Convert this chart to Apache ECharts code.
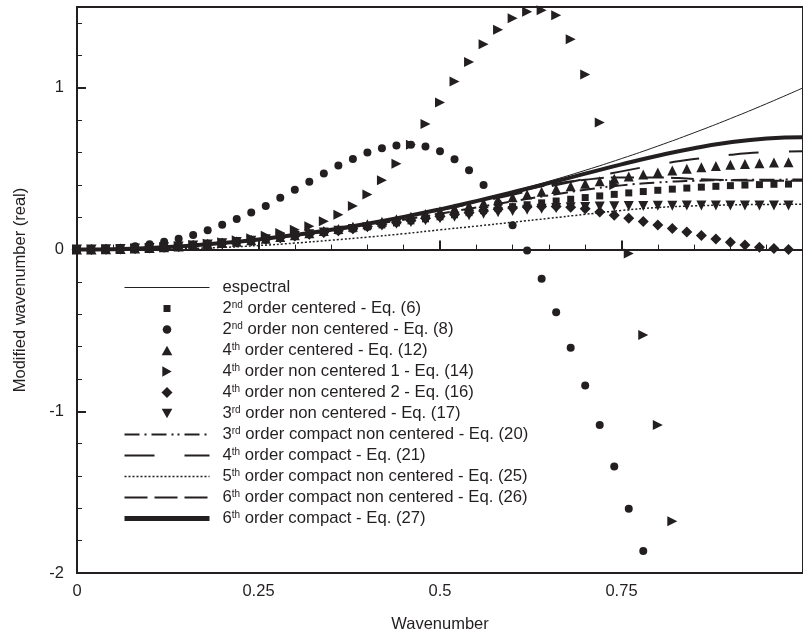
<!DOCTYPE html>
<html>
<head>
<meta charset="utf-8">
<script src="https://cdn.jsdelivr.net/npm/echarts@6/dist/echarts.min.js"></script>
<style>
html, body { margin: 0; padding: 0; background: #fff; }
#main { width: 803px; height: 640px; }
</style>
</head>
<body>
<div id="main"></div>
<script>
// wavenumbers of the marker series (step 0.02)
var wPts = [0,0.02,0.04,0.06,0.08,0.10,0.12,0.14,0.16,0.18,0.20,0.22,0.24,0.26,0.28,0.30,0.32,0.34,0.36,0.38,
            0.40,0.42,0.44,0.46,0.48,0.50,0.52,0.54,0.56,0.58,0.60,0.62,0.64,0.66,0.68,0.70,0.72,0.74,0.76,0.78,
            0.80,0.82,0.84,0.86,0.88,0.90,0.92,0.94,0.96,0.98];
// wavenumbers of the line series (step 0.05)
var wLine = [0,0.05,0.10,0.15,0.20,0.25,0.30,0.35,0.40,0.45,0.50,0.55,0.60,0.65,0.70,0.75,0.80,0.85,0.90,0.95,1.00];

// lines
var espectral = [0,0.0025,0.01,0.0225,0.04,0.0625,0.09,0.1225,0.16,0.2025,0.25,0.3025,0.36,0.4225,0.49,0.5625,0.64,0.7225,0.81,0.9025,1];
var cmp3nc = [0,0.0025,0.01,0.0224,0.0395,0.061,0.087,0.117,0.15,0.185,0.222,0.26,0.298,0.335,0.37,0.397,0.415,0.425,0.43,0.432,0.433];
var cmp4 = [0,0.0025,0.0100,0.0225,0.0400,0.0624,0.0897,0.1217,0.1582,0.1989,0.2432,0.2903,0.3393,0.3889,0.4375,0.4835,0.5248,0.5595,0.5859,0.6023,0.6079];
var cmp5nc = [0,0.001,0.003,0.007,0.013,0.025,0.04,0.058,0.077,0.098,0.122,0.145,0.169,0.193,0.218,0.242,0.26,0.27,0.276,0.279,0.28];
var cmp6nc = [0,0.0025,0.01,0.0225,0.04,0.0625,0.09,0.1224,0.1596,0.2012,0.247,0.298,0.352,0.40,0.432,0.446,0.446,0.437,0.429,0.426,0.425];
var cmp6 = [0,0.0025,0.0100,0.0225,0.0400,0.0625,0.0900,0.1224,0.1598,0.2019,0.2487,0.2996,0.3542,0.4112,0.4694,0.5266,0.5801,0.6268,0.6633,0.6867,0.6947];

// markers
var ord2c = [0,0.0004,0.0016,0.0036,0.0064,0.0099,0.0142,0.0193,0.0251,0.0315,0.0387,0.0465,0.0549,0.0639,0.0735,0.0835,0.0941,0.1050,0.1164,0.1280,
             0.1400,0.1522,0.1647,0.1772,0.1899,0.2026,0.2154,0.2280,0.2406,0.2530,0.2653,0.2772,0.2889,0.3003,0.3112,0.3217,0.3318,0.3414,0.3504,0.3588,
             0.3666,0.3737,0.3802,0.3860,0.3911,0.3954,0.3989,0.4017,0.4037,0.4049];
var ord2nc = [0,0.0005,0.003,0.01,0.02,0.033,0.048,0.067,0.09,0.119,0.153,0.189,0.229,0.27,0.32,0.37,0.42,0.47,0.52,0.56,
              0.60,0.627,0.644,0.648,0.637,0.608,0.558,0.49,0.40,0.285,0.15,-0.006,-0.18,-0.387,-0.607,-0.84,-1.085,-1.342,-1.603,-1.864];
var ord4c = [0,0.0004,0.0016,0.0036,0.0064,0.0100,0.0144,0.0196,0.0256,0.0324,0.0399,0.0483,0.0574,0.0673,0.0779,0.0893,0.1013,0.1141,0.1275,0.1415,
             0.1562,0.1713,0.1870,0.2031,0.2196,0.2364,0.2535,0.2708,0.2882,0.3057,0.3231,0.3405,0.3576,0.3744,0.3909,0.4069,0.4224,0.4372,0.4513,0.4647,
             0.4771,0.4886,0.4991,0.5085,0.5168,0.5239,0.5298,0.5344,0.5377,0.5397];
var ord4nc1 = [0,0.0004,0.0016,0.0037,0.0066,0.0104,0.015,0.021,0.028,0.036,0.046,0.057,0.07,0.085,0.102,0.123,0.144,0.175,0.216,0.27,
               0.34,0.428,0.531,0.648,0.776,0.909,1.04,1.16,1.27,1.36,1.43,1.47,1.48,1.449,1.301,1.082,0.786,0.40,-0.025,-0.529,
               -1.085,-1.68];
var ord4nc2 = [0,0.0004,0.0016,0.0036,0.0064,0.0099,0.0142,0.0193,0.0251,0.0315,0.0387,0.0465,0.0549,0.0639,0.0735,0.0835,0.0941,0.1050,0.1164,0.1290,
               0.143,0.156,0.169,0.181,0.193,0.205,0.217,0.228,0.239,0.249,0.257,0.263,0.267,0.267,0.262,0.253,0.233,0.213,0.193,0.173,
               0.152,0.13,0.108,0.087,0.066,0.046,0.029,0.015,0.006,0.001];
var ord3nc = [0,0.0004,0.0016,0.0036,0.0064,0.0099,0.0142,0.0193,0.0251,0.0315,0.0387,0.0465,0.0549,0.0639,0.0735,0.0835,0.0941,0.1050,0.1160,0.1270,
              0.138,0.149,0.16,0.171,0.182,0.193,0.203,0.213,0.222,0.231,0.239,0.246,0.252,0.257,0.261,0.264,0.266,0.268,0.269,0.27,
              0.271,0.271,0.272,0.272,0.272,0.272,0.272,0.272,0.272,0.272];

var names = [
    'espectral',
    '2nd order centered - Eq. (6)',
    '2nd order non centered - Eq. (8)',
    '4th order centered - Eq. (12)',
    '4th order non centered 1 - Eq. (14)',
    '4th order non centered 2 - Eq. (16)',
    '3rd order non centered - Eq. (17)',
    '3rd order compact non centered - Eq. (20)',
    '4th order compact - Eq. (21)',
    '5th order compact non centered - Eq. (25)',
    '6th order compact non centered - Eq. (26)',
    '6th order compact - Eq. (27)'
];

var ink = '#231f20';
var font = 'Liberation Sans, Arial, sans-serif';

// legend marker glyphs (the first two moves only fix the box size)
var icons = {
    rect: 'path://M0,0M11,11M2,2L9,2L9,9L2,9Z',
    circle: 'path://M0,0M11,11M1.2,5.5A4.3,4.3,0,1,0,9.8,5.5A4.3,4.3,0,1,0,1.2,5.5Z',
    up: 'path://M0,0M11,11M5.5,0.8L10.8,10.2L0.2,10.2Z',
    right: 'path://M0,0M11,11M0.8,0.2L10.2,5.5L0.8,10.8Z',
    down: 'path://M0,0M11,11M0.2,0.8L10.8,0.8L5.5,10.2Z',
    diamond: 'path://M0,0M11,11M5.5,-0.5L11.5,5.5L5.5,11.5L-0.5,5.5Z'
};

function pairs(xs, ys) {
    var d = [];
    for (var i = 0; i < ys.length; i++) {
        d.push([xs[i], ys[i]]);
    }
    return d;
}

function lineSeries(name, ys, width, dash) {
    return {
        name: name,
        type: 'line',
        data: pairs(wLine, ys),
        smooth: true,
        symbol: 'none',
        showSymbol: false,
        z: 2,
        lineStyle: { color: ink, width: width, type: dash },
        itemStyle: { color: ink }
    };
}

function markSeries(name, ys, symbol, size, rot) {
    return {
        name: name,
        type: 'scatter',
        data: pairs(wPts, ys),
        symbol: symbol,
        symbolSize: size,
        symbolRotate: rot || 0,
        z: 3,
        itemStyle: { color: ink, opacity: 1 }
    };
}

function lineItem(name, width, dash) {
    return { name: name, itemStyle: { opacity: 0 }, lineStyle: { width: width, type: dash, color: ink, opacity: 1 } };
}

function markItem(name, icon) {
    return { name: name, icon: icon };
}

var legendData = [
    lineItem(names[0], 1, 'solid'),
    markItem(names[1], icons.rect),
    markItem(names[2], icons.circle),
    markItem(names[3], icons.up),
    markItem(names[4], icons.right),
    markItem(names[5], icons.diamond),
    markItem(names[6], icons.down),
    lineItem(names[7], 2, [15, 5, 2, 5, 15, 5, 2, 4, 2, 5]),
    lineItem(names[8], 2, [30, 30]),
    lineItem(names[9], 1.5, [2, 2]),
    lineItem(names[10], 2, [23, 7]),
    lineItem(names[11], 5, 'solid')
];

var myChart = echarts.init(document.getElementById('main'));

var option = {
    animation: false,
    backgroundColor: '#fff',
    textStyle: { fontFamily: font, color: ink },
    grid: {
        left: 77, top: 7, right: -10, bottom: 67,
        show: true, borderColor: ink, borderWidth: 2
    },
    legend: {
        orient: 'vertical',
        left: 117,
        top: 274,
        itemWidth: 85,
        itemHeight: 11,
        itemGap: 4,
        symbolRotate: 0,
        data: legendData,
        formatter: function (name) {
            return name.replace(/^(\d)(st|nd|rd|th)(.*)$/, '{t|$1}{s|$2}{t|$3}').replace(/^espectral$/, '{t|espectral}');
        },
        textStyle: {
            padding: [0, 0, 0, 8],
            rich: {
                t: { fontSize: 16.7, lineHeight: 17, color: ink, fontFamily: font },
                s: { fontSize: 10, lineHeight: 10, verticalAlign: 'top', color: ink, fontFamily: font }
            }
        }
    },
    xAxis: {
        type: 'value',
        min: 0,
        max: 1,
        interval: 0.25,
        name: 'Wavenumber',
        nameLocation: 'middle',
        nameGap: 43,
        nameTextStyle: { fontSize: 16.5, color: ink },
        axisLine: { lineStyle: { color: ink, width: 2 } },
        axisTick: { inside: true, length: 9, lineStyle: { color: ink, width: 2 } },
        minorTick: { show: true, splitNumber: 5, length: 5, lineStyle: { color: ink, width: 1 } },
        splitLine: { show: false },
        axisLabel: {
            fontSize: 16.5, color: ink, margin: 10, showMaxLabel: false,
            formatter: function (v) { return String(v); }
        }
    },
    yAxis: [{
        type: 'value',
        min: -2,
        max: 1.5,
        interval: 1,
        name: 'Modified wavenumber (real)',
        nameLocation: 'middle',
        nameGap: 48,
        nameTextStyle: { fontSize: 16.5, color: ink },
        axisLine: { lineStyle: { color: ink, width: 2 } },
        axisTick: { inside: true, length: 9, lineStyle: { color: ink, width: 2 } },
        splitLine: { show: false },
        axisLabel: { fontSize: 16.5, color: ink, margin: 13, showMaxLabel: false }
    }, {
        // minor ticks every 0.2
        type: 'value',
        position: 'left',
        min: -2,
        max: 1.5,
        interval: 0.2,
        axisLine: { show: false },
        axisTick: { inside: true, length: 5, lineStyle: { color: ink, width: 1 } },
        axisLabel: { show: false },
        splitLine: { show: false }
    }],
    series: [
        lineSeries(names[0], espectral, 1, 'solid'),
        markSeries(names[1], ord2c, 'rect', 7),
        markSeries(names[2], ord2nc, 'circle', 8),
        markSeries(names[3], ord4c, 'triangle', 10),
        markSeries(names[4], ord4nc1, 'triangle', 10, -90),
        markSeries(names[5], ord4nc2, 'diamond', 11),
        markSeries(names[6], ord3nc, 'triangle', 10, 180),
        lineSeries(names[7], cmp3nc, 2, [15, 5, 2, 5, 15, 5, 2, 4, 2, 5]),
        lineSeries(names[8], cmp4, 2, [30, 30]),
        lineSeries(names[9], cmp5nc, 1.5, [2, 2]),
        lineSeries(names[10], cmp6nc, 2, [23, 7]),
        lineSeries(names[11], cmp6, 4, 'solid')
    ]
};

myChart.setOption(option);
</script>
</body>
</html>
